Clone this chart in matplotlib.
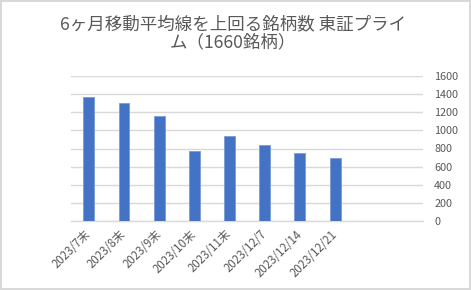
import matplotlib.pyplot as plt
import numpy as np

plt.rcParams['font.family'] = ['Noto Sans CJK JP', 'DejaVu Sans']

categories = ['2023/7末', '2023/8末', '2023/9末', '2023/10末', '2023/11末',
              '2023/12/7', '2023/12/14', '2023/12/21', '', '']
values = [1364, 1304, 1158, 775, 937, 838, 746, 691]
yticks = [0, 200, 400, 600, 800, 1000, 1200, 1400, 1600]

fig = plt.figure(figsize=(4.71, 2.90), dpi=100)
fig.patch.set_edgecolor('#d9d9d9')
fig.patch.set_linewidth(1.5)
ax = fig.add_axes([71.2 / 471, 69 / 290, (423 - 71.2) / 471, (221 - 76) / 290])

x = np.arange(len(categories))
ax.bar(x[:len(values)], values, width=0.31, color='#4472C4',
       edgecolor='#7a9bd6', linewidth=0.6, zorder=3)

ax.set_xlim(-0.5, len(categories) - 0.5)
ax.set_ylim(0, 1600)
ax.set_yticks(yticks)
ax.set_yticklabels([str(t) for t in yticks])
ax.yaxis.tick_right()
ax.grid(axis='y', color='#d9d9d9', linewidth=1.0, zorder=0)
for s in ['top', 'left', 'right']:
    ax.spines[s].set_visible(False)
ax.spines['bottom'].set_color('#d9d9d9')
ax.spines['bottom'].set_linewidth(1.0)

ax.set_xticks(x)
ax.set_xticklabels(categories, rotation=45, ha='right', va='center',
                   rotation_mode='anchor', fontsize=8.3)
ax.tick_params(axis='both', length=0, labelcolor='#595959')
ax.tick_params(axis='y', pad=8, labelsize=7.8)
ax.tick_params(axis='x', pad=8)

fig.text(0.495, 0.885, '6ヶ月移動平均線を上回る銘柄数 東証プライ\nム（1660銘柄）',
         ha='center', va='center', fontsize=12.6, color='#595959', linespacing=0.95)

plt.savefig('out.png', dpi=100)
